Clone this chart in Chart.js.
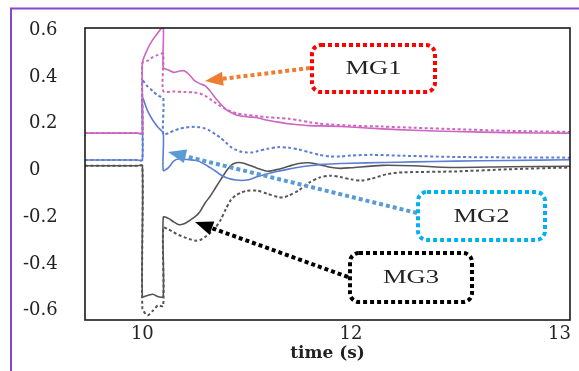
<!DOCTYPE html>
<html lang="en">
<head>
<meta charset="UTF-8">
<title>MG responses</title>
<script src="https://cdn.jsdelivr.net/npm/chart.js"></script>
<style>
  html, body { margin: 0; padding: 0; background: #fff; }
  canvas { display: block; }
</style>
</head>
<body>
<canvas id="mgChart" width="579" height="371"></canvas>
<script>
// time grid of the category axis (the source axis is not linear in time)
const lab = v => String(Math.round(v * 1000) / 1000);
const timeLabels = [];
for (let i = 0; i <= 51; i++) timeLabels.push(lab(9.45 + 0.05 * i));
for (let i = 1; i <= 42; i++) timeLabels.push(lab(12 + 0.025 * i));

const xTickLabels = ['10', '12', '13'];
const yTicks = [-0.6, -0.4, -0.2, 0, 0.2, 0.4, 0.6];

// [time (s), value]
const mg1Solid = [[9.45,0.16],[9.7,0.16],[9.95,0.16],[10,0.16],[10,0.46],[10.05,0.52],[10.1,0.56],[10.15,0.59],[10.2,0.615],
  [10.2,0.44],[10.25,0.43],[10.3,0.42],[10.35,0.425],[10.4,0.427],[10.45,0.41],[10.5,0.385],[10.55,0.372],
  [10.6,0.363],[10.65,0.34],[10.7,0.31],[10.75,0.285],[10.8,0.262],[10.85,0.248],[10.9,0.238],[11,0.23],
  [11.1,0.226],[11.2,0.215],[11.3,0.207],[11.4,0.2],[11.5,0.196],[11.6,0.192],[11.8,0.19],[12,0.186],
  [12.15,0.178],[12.3,0.172],[12.5,0.167],[12.75,0.162],[13.05,0.16]];
const mg1Dot = [[9.45,0.16],[9.7,0.16],[9.95,0.16],[10,0.16],[10,0.46],[10.05,0.47],[10.1,0.485],[10.15,0.495],[10.2,0.5],
  [10.2,0.34],[10.3,0.338],[10.4,0.336],[10.5,0.334],[10.55,0.33],[10.6,0.32],[10.65,0.305],[10.7,0.29],
  [10.75,0.275],[10.8,0.263],[10.85,0.253],[10.9,0.245],[11,0.238],[11.1,0.233],[11.2,0.228],[11.3,0.225],
  [11.4,0.222],[11.5,0.215],[11.6,0.207],[11.7,0.2],[11.8,0.197],[12,0.192],[12.15,0.188],[12.3,0.183],
  [12.5,0.177],[12.75,0.17],[13.05,0.165]];
const mg2Solid = [[9.45,0.045],[9.7,0.045],[9.95,0.045],[10,0.045],[10,0.31],[10.05,0.255],[10.1,0.215],[10.15,0.185],[10.2,0.16],
  [10.2,0.0],[10.25,0.012],[10.3,0.04],[10.35,0.05],[10.4,0.048],[10.45,0.046],[10.5,0.044],[10.55,0.038],
  [10.6,0.026],[10.65,0.012],[10.7,-0.002],[10.75,-0.018],[10.8,-0.03],[10.85,-0.037],[10.9,-0.041],
  [10.95,-0.043],[11,-0.041],[11.05,-0.035],[11.1,-0.027],[11.2,-0.014],[11.3,-0.003],[11.4,0.006],
  [11.5,0.014],[11.6,0.02],[11.7,0.025],[11.8,0.028],[12,0.031],[12.15,0.034],[12.3,0.037],[12.5,0.04],
  [12.75,0.043],[13.05,0.046]];
const mg2Dot = [[9.45,0.045],[9.7,0.045],[9.95,0.045],[10,0.045],[10,0.385],[10.05,0.36],[10.1,0.34],[10.15,0.32],[10.2,0.31],
  [10.2,0.155],[10.25,0.16],[10.3,0.17],[10.35,0.178],[10.4,0.183],[10.45,0.186],[10.5,0.187],[10.55,0.185],
  [10.6,0.18],[10.65,0.17],[10.7,0.155],[10.75,0.14],[10.8,0.12],[10.85,0.1],[10.9,0.088],[10.95,0.08],
  [11,0.077],[11.05,0.077],[11.1,0.082],[11.2,0.093],[11.3,0.1],[11.4,0.098],[11.5,0.09],[11.6,0.078],
  [11.7,0.067],[11.8,0.06],[11.9,0.06],[12,0.064],[12.1,0.067],[12.25,0.063],[12.5,0.058],[12.75,0.056],
  [13.05,0.055]];
const mg3Solid = [[9.45,0.02],[9.7,0.02],[9.95,0.02],[10,0.02],[10,-0.54],[10.05,-0.535],[10.1,-0.53],[10.15,-0.54],[10.2,-0.54],
  [10.2,-0.2],[10.25,-0.205],[10.3,-0.22],[10.35,-0.232],[10.4,-0.228],[10.45,-0.215],[10.5,-0.2],
  [10.55,-0.178],[10.6,-0.14],[10.65,-0.11],[10.7,-0.075],[10.75,-0.04],[10.8,-0.005],[10.85,0.022],
  [10.9,0.033],[10.95,0.033],[11,0.027],[11.1,0.01],[11.2,-0.003],[11.3,0.005],[11.4,0.018],[11.5,0.03],
  [11.6,0.033],[11.7,0.025],[11.8,0.014],[11.9,0.009],[12,0.012],[12.15,0.022],[12.3,0.02],[12.475,0.013],
  [12.75,0.016],[13.05,0.018]];
const mg3Dot = [[9.45,0.02],[9.7,0.02],[9.95,0.02],[10,0.02],[10,-0.59],[10.05,-0.62],[10.1,-0.6],[10.15,-0.578],[10.2,-0.58],
  [10.2,-0.245],[10.25,-0.252],[10.3,-0.265],[10.35,-0.276],[10.4,-0.285],[10.45,-0.293],[10.5,-0.3],
  [10.55,-0.298],[10.6,-0.285],[10.65,-0.268],[10.7,-0.245],[10.75,-0.212],[10.8,-0.165],[10.85,-0.125],
  [10.9,-0.105],[10.95,-0.094],[11,-0.087],[11.1,-0.086],[11.2,-0.1],[11.3,-0.113],[11.35,-0.115],
  [11.4,-0.108],[11.5,-0.085],[11.6,-0.052],[11.7,-0.03],[11.8,-0.022],[11.9,-0.028],[12,-0.038],
  [12.05,-0.043],[12.1,-0.035],[12.175,-0.015],[12.25,-0.008],[12.5,-0.004],[12.75,0.005],[13.05,0.013]];

// snap each time onto the category grid
function toPoints(arr) {
  return arr.map(([t, v]) => {
    let key = lab(t);
    if (!timeLabels.includes(key)) {
      let best = 0;
      timeLabels.forEach((l, i) => { if (Math.abs(+l - t) < Math.abs(+timeLabels[best] - t)) best = i; });
      key = timeLabels[best];
    }
    return { x: key, y: v };
  });
}

const pink = '#cc66c0', blue = '#5b7dd2', grey = '#555555';

// purple frame and the black plot box
const framePlugin = {
  id: 'frame',
  afterDraw(chart) {
    const ctx = chart.ctx, a = chart.chartArea;
    ctx.save();
    ctx.strokeStyle = '#8548c8';
    ctx.lineWidth = 2;
    ctx.beginPath();
    ctx.moveTo(11, 371); ctx.lineTo(11, 8.5); ctx.lineTo(579, 8.5);
    ctx.stroke();
    ctx.strokeStyle = '#1a1a1a';
    ctx.lineWidth = 1.6;
    ctx.strokeRect(a.left, a.top, a.right - a.left, a.bottom - a.top);
    ctx.restore();
  }
};

// callout boxes and arrows
const callouts = [
  { text: 'MG1', color: '#ff0000', box: [312, 45, 123, 47], arrow: '#ed7d31', from: [310, 68], tip: [205, 81] },
  { text: 'MG2', color: '#00b0f0', box: [418, 192, 127, 48], arrow: '#5b9bd5', from: [417, 213], tip: [168, 152] },
  { text: 'MG3', color: '#000000', box: [350, 253, 122, 49], arrow: '#000000', from: [348, 277], tip: [195, 222] }
];

function roundRect(ctx, x, y, w, h, r) {
  ctx.beginPath();
  ctx.moveTo(x + r, y);
  ctx.arcTo(x + w, y, x + w, y + h, r);
  ctx.arcTo(x + w, y + h, x, y + h, r);
  ctx.arcTo(x, y + h, x, y, r);
  ctx.arcTo(x, y, x + w, y, r);
  ctx.closePath();
}

const calloutPlugin = {
  id: 'callouts',
  afterDatasetsDraw(chart) {
    const ctx = chart.ctx;
    ctx.save();
    callouts.forEach(c => {
      const [fx, fy] = c.from, [tx, ty] = c.tip;
      const ang = Math.atan2(ty - fy, tx - fx);
      const headLen = 18, headW = 7;
      const bx = tx - headLen * Math.cos(ang), by = ty - headLen * Math.sin(ang);
      // dotted shaft
      ctx.strokeStyle = c.arrow;
      ctx.lineWidth = 4;
      ctx.setLineDash([4, 3]);
      ctx.beginPath();
      ctx.moveTo(fx, fy);
      ctx.lineTo(bx, by);
      ctx.stroke();
      // head
      ctx.setLineDash([]);
      ctx.fillStyle = c.arrow;
      ctx.beginPath();
      ctx.moveTo(tx, ty);
      ctx.lineTo(bx + headW * Math.sin(ang), by - headW * Math.cos(ang));
      ctx.lineTo(bx - headW * Math.sin(ang), by + headW * Math.cos(ang));
      ctx.closePath();
      ctx.fill();
      // box
      const [x, y, w, h] = c.box;
      ctx.fillStyle = '#ffffff';
      roundRect(ctx, x, y, w, h, 9);
      ctx.fill();
      ctx.strokeStyle = c.color;
      ctx.lineWidth = 4;
      ctx.setLineDash([4, 3]);
      roundRect(ctx, x, y, w, h, 9);
      ctx.stroke();
      ctx.setLineDash([]);
      // label, stretched like the source
      ctx.save();
      ctx.translate(x + w / 2, y + h / 2 + 1);
      ctx.scale(1.4, 1);
      ctx.fillStyle = '#222';
      ctx.font = '19px "Liberation Serif", serif';
      ctx.textAlign = 'center';
      ctx.textBaseline = 'middle';
      ctx.fillText(c.text, 0, 0);
      ctx.restore();
    });
    ctx.restore();
  }
};

const tickFont = { family: '"DejaVu Serif", serif', size: 18 };

new Chart(document.getElementById('mgChart'), {
  type: 'line',
  data: {
    labels: timeLabels,
    datasets: [
      { label: 'MG1', data: toPoints(mg1Dot), borderColor: pink, borderWidth: 2, borderDash: [3, 2.5] },
      { label: 'MG2', data: toPoints(mg2Dot), borderColor: blue, borderWidth: 2, borderDash: [3, 2.5] },
      { label: 'MG3', data: toPoints(mg3Dot), borderColor: grey, borderWidth: 2, borderDash: [3, 2.5] },
      { label: 'MG1', data: toPoints(mg1Solid), borderColor: pink, borderWidth: 1.6 },
      { label: 'MG2', data: toPoints(mg2Solid), borderColor: blue, borderWidth: 1.6 },
      { label: 'MG3', data: toPoints(mg3Solid), borderColor: grey, borderWidth: 1.6 }
    ]
  },
  options: {
    responsive: false,
    animation: false,
    devicePixelRatio: 1,
    layout: { padding: { left: 23, top: 28, right: 9, bottom: 0 } },
    elements: { point: { radius: 0 }, line: { tension: 0.25, fill: false } },
    plugins: { legend: { display: false }, tooltip: { enabled: false } },
    scales: {
      x: {
        type: 'category',
        grid: { display: false, drawTicks: false },
        border: { display: false },
        afterBuildTicks: s => { s.ticks = s.ticks.filter(t => xTickLabels.includes(timeLabels[t.value])); },
        afterFit: s => { s.height = 51; },
        ticks: { autoSkip: false, maxRotation: 0, padding: 4, color: '#222', font: tickFont },
        title: { display: true, text: 'time (s)', color: '#222', padding: { top: 0, bottom: 7 },
                 font: { family: '"DejaVu Serif", serif', size: 17, weight: 'bold' } }
      },
      y: {
        min: -0.64,
        max: 0.61,
        grid: { display: false, drawTicks: false },
        border: { display: false },
        afterBuildTicks: s => { s.ticks = yTicks.map(v => ({ value: v })); },
        afterFit: s => { s.width = 62; },
        ticks: {
          crossAlign: 'far',
          color: '#222',
          font: tickFont,
          callback: v => v === 0 ? '\u20040' : (v > 0 ? '\u2004' + v.toFixed(1) : v.toFixed(1))
        }
      }
    }
  },
  plugins: [framePlugin, calloutPlugin]
});
</script>
</body>
</html>
